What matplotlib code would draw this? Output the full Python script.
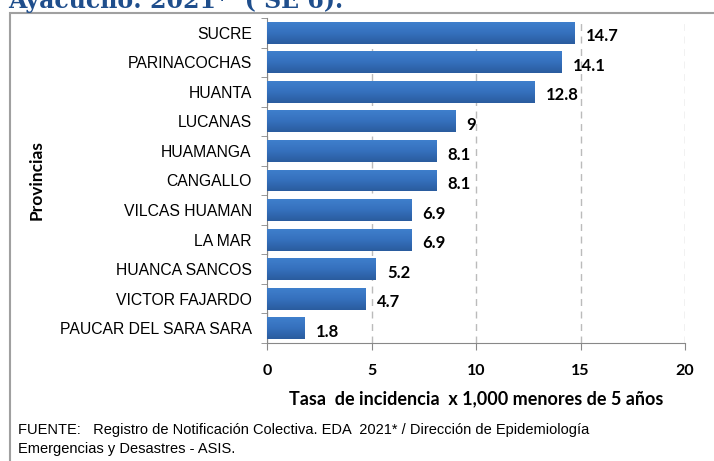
import matplotlib.pyplot as plt
from matplotlib.patches import Rectangle
from matplotlib.colors import LinearSegmentedColormap
import numpy as np

# datos (de arriba hacia abajo)
provincias = ['SUCRE', 'PARINACOCHAS', 'HUANTA', 'LUCANAS', 'HUAMANGA', 'CANGALLO',
              'VILCAS HUAMAN', 'LA MAR', 'HUANCA SANCOS', 'VICTOR FAJARDO',
              'PAUCAR DEL SARA SARA']
tasas = [14.7, 14.1, 12.8, 9, 8.1, 8.1, 6.9, 6.9, 5.2, 4.7, 1.8]
etiquetas = ['14.7', '14.1', '12.8', '9', '8.1', '8.1', '6.9', '6.9', '5.2', '4.7', '1.8']
xticks = [0, 5, 10, 15, 20]

narrow = ['Liberation Sans Narrow', 'Liberation Sans', 'DejaVu Sans']
bold = ['Lato', 'DejaVu Sans']

fig = plt.figure(figsize=(7.14, 4.61), dpi=100)
ax = fig.add_axes([267/714, 1-343/461, (685-267)/714, (343-18)/461])

y = np.arange(len(provincias))
bars = ax.barh(y, tasas, height=0.74, color='#336FBD', edgecolor='none', zorder=3)

# degradado vertical en cada barra
cmap = LinearSegmentedColormap.from_list('azul', ['#3F7FCC', '#3570BD', '#2A5C9E'])
grad = np.linspace(0, 1, 64).reshape(-1, 1)
for b in bars:
    x0, y0 = b.get_x(), b.get_y()
    w, h = b.get_width(), b.get_height()
    im = ax.imshow(grad, cmap=cmap, aspect='auto', extent=(x0, x0 + w, y0 + h, y0),
                   origin='upper', zorder=3.5)
    im.set_clip_path(b)

for yi, v, t in zip(y, tasas, etiquetas):
    ax.text(v + 0.55, yi + 0.12, t, va='center', ha='left', fontsize=12,
            fontweight='bold', family=bold, color='black', zorder=4)

ax.set_ylim(len(provincias) - 0.5, -0.5)
ax.set_xlim(0, 20)
ax.set_aspect('auto')
ax.set_yticks(y)
ax.set_yticklabels(provincias, family=narrow, fontsize=11.3)
ax.set_yticks(np.arange(-0.5, len(provincias), 1), minor=True)
ax.tick_params(axis='y', which='major', length=0, pad=11)
ax.tick_params(axis='y', which='minor', length=4, color='#888888', direction='out')

ax.set_xticks(xticks)
ax.set_xticklabels([str(t) for t in xticks], family=bold, fontweight='bold', fontsize=11.5)
ax.tick_params(axis='x', length=5, color='#888888', pad=10)

ax.grid(axis='x', linestyle=(0, (5, 4)), color='#BBBBBB', linewidth=1, zorder=0)
for s in ['top', 'right']:
    ax.spines[s].set_visible(False)
for s in ['left', 'bottom']:
    ax.spines[s].set_color('#888888')

ax.set_xlabel('Tasa  de incidencia  x 1,000 menores de 5 años', family=bold,
              fontweight='bold', fontsize=13, labelpad=9)
fig.text(37/714, 1-180/461, 'Provincias', rotation=90, va='center', ha='center',
         family=bold, fontweight='bold', fontsize=12.5)

fig.text(18/714, 1-430/461, 'FUENTE:   Registro de Notificación Colectiva. EDA  2021* / Dirección de Epidemiología',
         family=narrow, fontsize=10.5, va='center')
fig.text(18/714, 1-449/461, 'Emergencias y Desastres - ASIS.', family=narrow, fontsize=10.5, va='center')

# marco y titulo (cortado arriba como en el original)
fig.patches.append(Rectangle((10/714, -0.05), 1.0, 1-13/461 + 0.05, transform=fig.transFigure,
                             fill=False, edgecolor='#A0A0A0', linewidth=1.5))
fig.text(8/714, 1-8/461, 'Ayacucho: 2021*  ( SE 6).', family=['DejaVu Serif'], fontweight='bold',
         fontsize=17, color='#1F4E8C', va='baseline')

fig.savefig('out.png', dpi=100)
